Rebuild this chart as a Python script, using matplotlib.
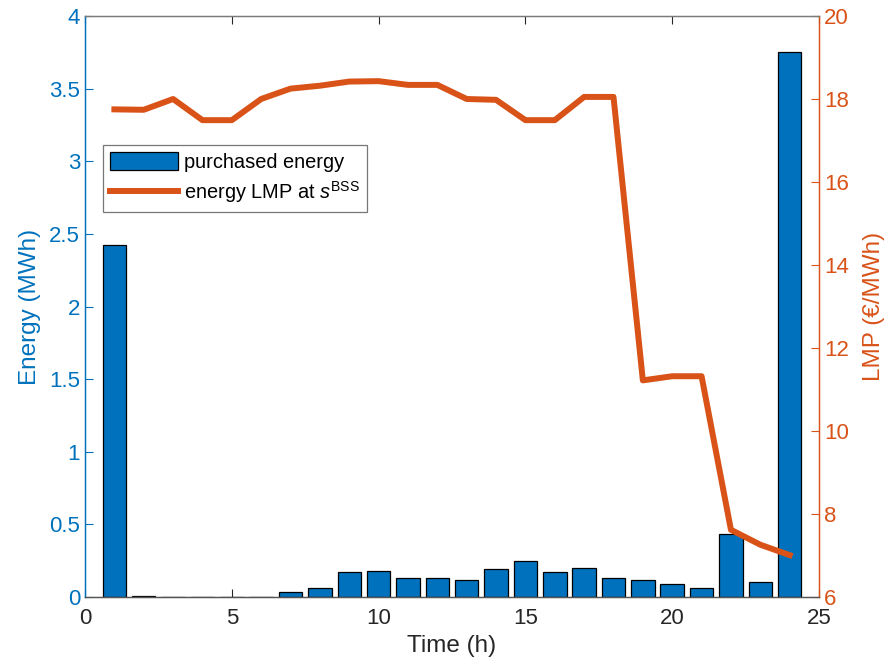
import matplotlib
matplotlib.use("Agg")
import matplotlib.pyplot as plt

plt.rcParams['font.family'] = ['Liberation Sans', 'DejaVu Sans']
plt.rcParams['mathtext.fontset'] = 'custom'
plt.rcParams['mathtext.rm'] = 'Liberation Sans'
plt.rcParams['mathtext.it'] = 'Liberation Sans:italic'

hours = list(range(1, 25))
purchased_energy = [2.42, 0.005, 0.0, 0.0, 0.0, 0.0, 0.035, 0.06, 0.175, 0.18,
                    0.133, 0.133, 0.115, 0.195, 0.245, 0.17, 0.197, 0.133,
                    0.115, 0.09, 0.062, 0.435, 0.10, 3.75]
lmp = [17.75, 17.74, 18.0, 17.49, 17.49, 18.0, 18.25, 18.32, 18.42, 18.43,
       18.34, 18.34, 18.0, 17.98, 17.49, 17.49, 18.05, 18.05, 11.22, 11.32,
       11.32, 7.62, 7.26, 7.01]

energy_ticks = [0, 0.5, 1, 1.5, 2, 2.5, 3, 3.5, 4]
lmp_ticks = [6, 8, 10, 12, 14, 16, 18, 20]
time_ticks = [0, 5, 10, 15, 20, 25]

BLUE = '#0072BD'
ORANGE = '#D95319'
DARK = '#262626'

fig = plt.figure(figsize=(8.95, 6.69), dpi=100)
ax = fig.add_axes([0.095, 0.1076, 0.8201, 0.8685])
ax2 = ax.twinx()

bars = ax.bar(hours, purchased_energy, width=0.8, color=BLUE,
              edgecolor='black', linewidth=0.9, label='purchased energy', zorder=2)
line, = ax2.plot(hours, lmp, color=ORANGE, linewidth=4.3,
                 label='energy LMP at $s^{\\mathrm{BSS}}$', zorder=3)

ax.set_xlim(0, 25)
ax.set_ylim(0, 4)
ax2.set_ylim(6, 20)
ax.set_xticks(time_ticks)
ax.set_yticks(energy_ticks)
ax.set_yticklabels([f'{t:g}' for t in energy_ticks])
ax2.set_yticks(lmp_ticks)

ax.tick_params(axis='x', direction='in', length=6, width=0.8, colors=DARK,
               labelsize=16, top=True, pad=8)
ax.tick_params(axis='y', direction='in', length=6, width=0.8, colors=BLUE,
               labelsize=16)
ax2.tick_params(axis='y', direction='in', length=6, width=0.8, colors=ORANGE,
                labelsize=16)

for a in (ax, ax2):
    a.spines['top'].set_color('#7a7a7a')
    a.spines['bottom'].set_color('#555555')
    a.spines['left'].set_color(BLUE)
    a.spines['right'].set_color(ORANGE)
    for s in a.spines.values():
        s.set_linewidth(0.9)

ax.set_xlabel('Time (h)', fontsize=17.5, color=DARK, labelpad=4)
ax.set_ylabel('Energy (MWh)', fontsize=17.5, color=BLUE, labelpad=6)
ax2.set_ylabel('LMP (€/MWh)', fontsize=17.5, color=ORANGE, labelpad=10)

leg = ax2.legend([bars, line], [bars.get_label(), line.get_label()],
                 loc='upper left', bbox_to_anchor=(0.0245, 0.778),
                 borderaxespad=0, fontsize=14.4, frameon=True, fancybox=False,
                 edgecolor='#555555', handlelength=3.4, handleheight=1.0,
                 handletextpad=0.3, borderpad=0.35, labelspacing=0.35)
leg.get_frame().set_linewidth(0.9)

fig.savefig('out.png', dpi=100)
